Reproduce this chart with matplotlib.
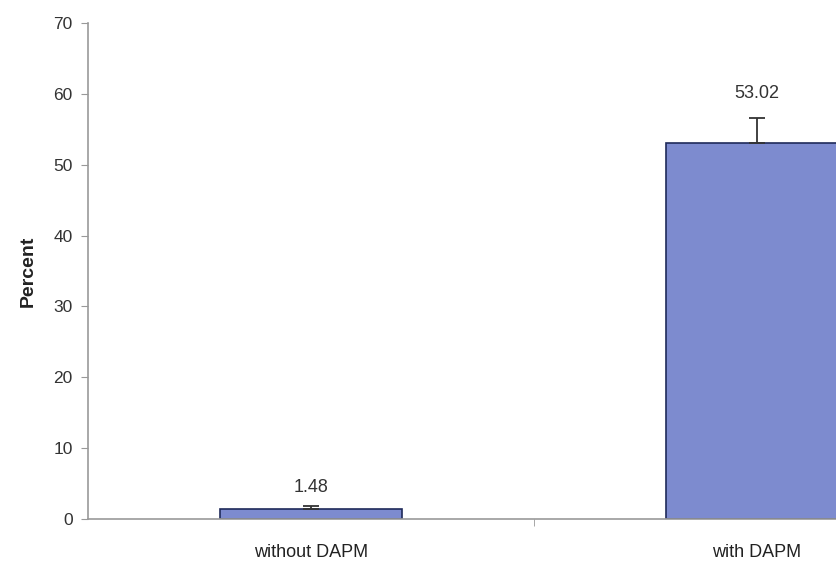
import matplotlib
matplotlib.use("Agg")
import matplotlib.pyplot as plt

# data
categories = ["without DAPM", "with DAPM"]
values = [1.48, 53.02]
errors = [0.3, 3.6]
value_labels = ["1.48", "53.02"]
label_heights = [4.4, 60.0]
y_ticks = [0, 10, 20, 30, 40, 50, 60, 70]

plt.rcParams["font.family"] = ["Liberation Sans", "DejaVu Sans"]

fig = plt.figure(figsize=(8.37, 5.64), dpi=100)
# axes run past the right edge: the reference is cropped there
ax = fig.add_axes([88 / 837, 45 / 564, 892 / 837, 496 / 564])

x = list(range(len(categories)))
ax.bar(x, values, width=0.41, color="#7d8bcf", edgecolor="#1f2a5a", linewidth=1.2, zorder=2)
ax.errorbar(x, values, yerr=[[0] * len(errors), errors], fmt="none", ecolor="#333333",
            elinewidth=1.3, capsize=6, capthick=1.3, zorder=3)
for xi, lab, h in zip(x, value_labels, label_heights):
    ax.text(xi, h, lab, ha="center", va="center", fontsize=13, color="#333333")

ax.set_xlim(-0.5, 1.5)
ax.set_ylim(0, 70)
ax.set_yticks(y_ticks)
ax.set_xticks([0.5], minor=True)
ax.set_xticks(x)
ax.set_xticklabels(categories, fontsize=13, color="#222222")
ax.tick_params(axis="x", which="major", length=0, pad=18)
ax.tick_params(axis="x", which="minor", length=5, color="#999999", direction="out")
ax.tick_params(axis="y", length=5, color="#999999", labelsize=12.5, labelcolor="#333333", pad=6)
ax.set_ylabel("Percent", fontsize=14, fontweight="bold", color="#222222", labelpad=12)

for side in ("top", "right"):
    ax.spines[side].set_visible(False)
for side in ("left", "bottom"):
    ax.spines[side].set_color("#999999")
    ax.spines[side].set_linewidth(1.2)

fig.savefig("out.png", dpi=100)
